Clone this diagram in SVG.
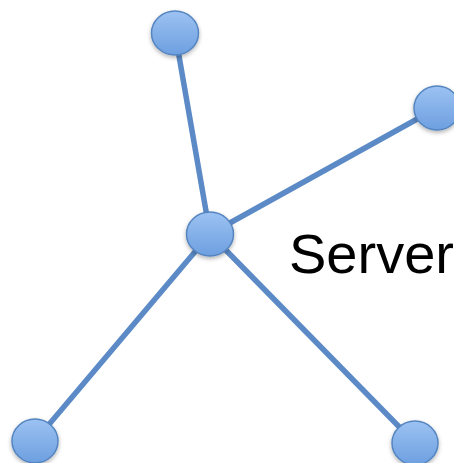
<svg xmlns="http://www.w3.org/2000/svg" width="454" height="463" viewBox="0 0 454 463">
  <defs>
    <linearGradient id="g" x1="0" y1="0" x2="0" y2="1">
      <stop offset="0" stop-color="#9cc2f2"/>
      <stop offset="1" stop-color="#6d9fe0"/>
    </linearGradient>
    <filter id="sh" x="-30%" y="-30%" width="170%" height="170%">
      <feDropShadow dx="0" dy="2" stdDeviation="2" flood-color="#000" flood-opacity="0.3"/>
    </filter>
    <style>
      .edge { stroke: #5b8ac6; stroke-width: 5.5; fill: none; }
      .node { fill: url(#g); stroke: #5585c0; stroke-width: 1.5; filter: url(#sh); }
      .label { font-family: "Liberation Sans", Arial, sans-serif; font-size: 56px; fill: #000; }
    </style>
  </defs>
  <rect width="454" height="463" fill="#fff"/>
  <g id="connectors">
    <line class="edge" x1="210" y1="234" x2="175" y2="33"/>
    <line class="edge" x1="210" y1="234" x2="437" y2="108"/>
    <line class="edge" x1="210" y1="234" x2="35" y2="441"/>
    <line class="edge" x1="210" y1="234" x2="415" y2="443"/>
  </g>
  <g id="node-top"><ellipse class="node" cx="175" cy="33" rx="23.5" ry="22"/></g>
  <g id="node-right"><ellipse class="node" cx="437" cy="108" rx="23" ry="22"/></g>
  <g id="node-bottom-left"><ellipse class="node" cx="35" cy="441" rx="23" ry="22"/></g>
  <g id="node-bottom-right"><ellipse class="node" cx="415" cy="443" rx="23" ry="22"/></g>
  <g id="node-server">
    <ellipse class="node" cx="210" cy="234" rx="23.5" ry="22"/>
    <text class="label" x="289" y="273">Server</text>
  </g>
</svg>
